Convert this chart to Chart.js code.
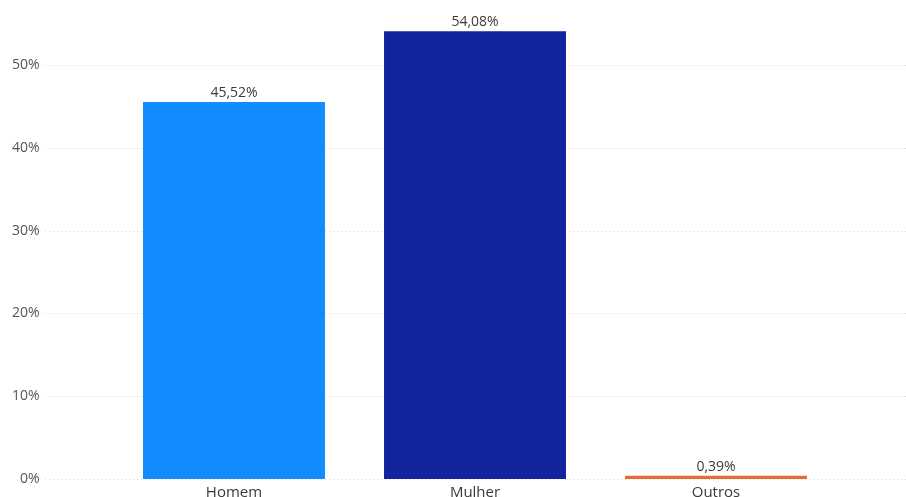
<!DOCTYPE html>
<html>
<head>
<meta charset="utf-8">
<script src="https://cdn.jsdelivr.net/npm/chart.js@4/dist/chart.umd.min.js"></script>
<style>
  html, body { margin: 0; padding: 0; background: #fff; overflow: hidden; }
  #wrap { width: 906px; height: 497px; overflow: hidden; }
  #box { position: relative; width: 906px; height: 507px; }
</style>
</head>
<body>
<div id="wrap"><div id="box"><canvas id="c"></canvas></div></div>
<script>
// Distribuição por gênero (%)
const categories = ['Homem', 'Mulher', 'Outros'];
const shares = [45.52, 54.08, 0.39];
const barColors = ['#118DFF', '#12239E', '#E66C37'];

const FONT = '"Segoe UI", "Open Sans", "Noto Sans", sans-serif';
const fmtPct = v => v.toFixed(2).replace('.', ',') + '%';

// Dotted horizontal guides that run across the full width, behind the bars
const gridPlugin = {
  id: 'wideGrid',
  beforeDatasetsDraw(chart) {
    const { ctx } = chart;
    const y = chart.scales.y;
    ctx.save();
    ctx.strokeStyle = '#d6d6d6';
    ctx.lineWidth = 1;
    ctx.setLineDash([1, 3]);
    y.ticks.forEach(t => {
      const py = Math.round(y.getPixelForValue(t.value)) + 0.5;
      ctx.beginPath();
      ctx.moveTo(45, py);
      ctx.lineTo(chart.width, py);
      ctx.stroke();
    });
    ctx.restore();
  }
};

// Value labels above each bar
const labelPlugin = {
  id: 'valueLabels',
  afterDatasetsDraw(chart) {
    const { ctx } = chart;
    const meta = chart.getDatasetMeta(0);
    ctx.save();
    ctx.font = '14px ' + FONT;
    ctx.fillStyle = '#3a3a3a';
    ctx.textAlign = 'center';
    ctx.textBaseline = 'alphabetic';
    meta.data.forEach((bar, i) => {
      ctx.fillText(fmtPct(shares[i]), bar.x, bar.y - 5);
    });
    ctx.restore();
  }
};

new Chart(document.getElementById('c'), {
  type: 'bar',
  data: {
    labels: categories,
    datasets: [{
      data: shares,
      backgroundColor: barColors,
      borderWidth: 0,
      categoryPercentage: 1,
      barPercentage: 0.755
    }]
  },
  options: {
    responsive: true,
    maintainAspectRatio: false,
    animation: false,
    layout: { padding: { top: 23.6, right: 69.5, left: 0, bottom: 0 } },
    plugins: { legend: { display: false }, tooltip: { enabled: false } },
    scales: {
      x: {
        grid: { display: false, drawTicks: false },
        border: { display: false },
        ticks: { color: '#3b3a39', font: { family: FONT, size: 15 }, padding: 5 }
      },
      y: {
        min: 0,
        max: 55,
        grid: { display: false, drawTicks: false },
        border: { display: false },
        ticks: {
          stepSize: 10,
          includeBounds: false,
          padding: 74,
          color: '#555555',
          font: { family: FONT, size: 14 },
          callback: v => v + '%'
        },
        afterFit(scale) {
          scale.width = 113.5;
          scale.paddingTop = 0;
          scale.paddingBottom = 0;
        }
      }
    }
  },
  plugins: [gridPlugin, labelPlugin]
});
</script>
</body>
</html>
